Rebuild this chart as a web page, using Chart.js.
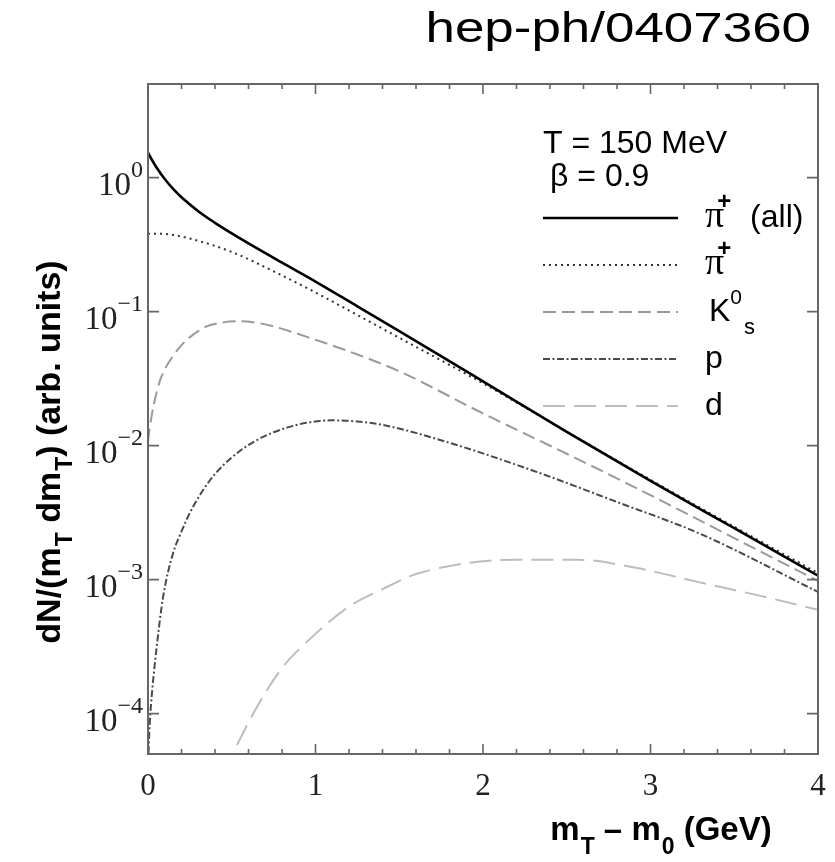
<!DOCTYPE html>
<html><head><meta charset="utf-8">
<script src="https://cdn.jsdelivr.net/npm/chart.js@4.4.1/dist/chart.umd.min.js"></script>
<style>html,body{margin:0;padding:0;background:#fff;}#wrap{width:835px;height:862px;position:relative;}</style>
</head><body><div id="wrap"><canvas id="c"></canvas></div>
<script>
// ---- data ----
const xPiAll = [0, 0.02, 0.05, 0.1, 0.15, 0.2, 0.3, 0.4, 0.5, 0.6, 0.8, 1, 1.25, 1.5, 2, 2.5, 3, 3.5, 4];
const yPiAll = [1.538, 1.381, 1.196, 0.976, 0.824, 0.714, 0.562, 0.460, 0.3836, 0.323, 0.2321, 0.1678, 0.1096, 0.0716, 0.0302, 0.01268, 0.00546, 0.00242, 0.00107];

const xPiPlus = [0, 0.1, 0.25, 0.5, 0.75, 1, 1.25, 1.5, 2, 2.5, 3, 3.5, 4];
const yPiPlus = [0.382, 0.380, 0.351, 0.279, 0.200, 0.139, 0.0944, 0.0638, 0.0292, 0.01274, 0.00556, 0.00248, 0.00112];

const xK0s = [0, 0.01, 0.02, 0.035, 0.05, 0.07, 0.1, 0.15, 0.2, 0.25, 0.3, 0.35, 0.45, 0.55, 0.65, 0.75, 1, 1.25, 1.5, 2, 2.5, 3, 3.5, 4];
const yK0s = [0.01072, 0.01349, 0.01622, 0.02042, 0.02455, 0.0302, 0.03715, 0.04677, 0.05623, 0.06457, 0.07161, 0.07762, 0.08318, 0.08472, 0.0826, 0.0776, 0.0617, 0.0479, 0.0359, 0.0174, 0.0087, 0.00427, 0.00204, 0.00098];

const xProton = [0, 0.01, 0.025, 0.05, 0.09, 0.15, 0.2, 0.25, 0.3, 0.37, 0.45, 0.55, 0.65, 0.75, 0.85, 0.95, 1.1, 1.25, 1.4, 1.8, 2.3, 2.8, 3.3, 4];
const yProton = [4e-5, 8.3e-5, 1.48e-4, 3.0e-4, 7.4e-4, 1.58e-3, 2.29e-3, 3.16e-3, 4.09e-3, 5.52e-3, 7.16e-3, 9.16e-3, 0.01101, 0.01259, 0.01387, 0.01483, 0.01545, 0.01514, 0.0143, 0.0105, 6.5e-3, 3.8e-3, 2.19e-3, 8.1e-4];

const xDeuteron = [0.45, 0.55, 0.65, 0.8, 1.0, 1.2, 1.4, 1.62, 2.2, 2.56, 2.92, 3.3, 3.65, 4.0];
const yDeuteron = [3.6e-5, 6.5e-5, 1.12e-4, 2.19e-4, 3.94e-4, 6.3e-4, 8.5e-4, 1.12e-3, 1.41e-3, 1.41e-3, 1.22e-3, 9.5e-4, 7.6e-4, 5.96e-4];

const yTickExponents = [0, -1, -2, -3, -4];
const xTickValues = [0, 1, 2, 3, 4];
const xMinorStep = 0.2;
const yMin = 5e-5, yMax = 5, xMin = 0, xMax = 4;
const titleText = 'hep-ph/0407360';
const paramLines = ['T = 150 MeV', 'β = 0.9'];

const SANS = '"Liberation Sans", Arial, Helvetica, sans-serif';
const SERIF = '"Liberation Serif", "Times New Roman", serif';

const pts = (xs, ys) => xs.map((x, i) => ({x, y: ys[i]}));

const datasets = [
  {label: 'π+ (all)', data: pts(xPiAll, yPiAll), borderColor: '#000', borderWidth: 2.6, borderDash: []},
  {label: 'π+', data: pts(xPiPlus, yPiPlus), borderColor: '#333', borderWidth: 2, borderDash: [2, 4]},
  {label: 'K0s', data: pts(xK0s, yK0s), borderColor: '#9a9a9a', borderWidth: 2, borderDash: [13, 6]},
  {label: 'p', data: pts(xProton, yProton), borderColor: '#4a4a4a', borderWidth: 2, borderDash: [7, 2.5, 2, 2.5]},
  {label: 'd', data: pts(xDeuteron, yDeuteron), borderColor: '#bdbdbd', borderWidth: 2, borderDash: [22, 9]}
].map(d => Object.assign(d, {pointRadius: 0, fill: false, cubicInterpolationMode: 'monotone', borderCapStyle: 'butt', clip: 0}));

// legend label pieces: [text, font, dx, dy]
const legendLabels = [
  [['π', '38px ' + SERIF, 0, 0], ['+', 'bold 24px ' + SANS, -7, -18], [' (all)', '32px ' + SANS, 10, 0]],
  [['π', '38px ' + SERIF, 0, 0], ['+', 'bold 24px ' + SANS, -7, -18]],
  [['K', '32px ' + SANS, 4, 0], ['0', '21px ' + SANS, 0, -17], ['s', '22px ' + SANS, 2, 13]],
  [['p', '32px ' + SANS, 0, 0]],
  [['d', '32px ' + SANS, 0, 0]]
];

function rich(ctx, segs, x, y, measureOnly) {
  let cx = x;
  for (const [t, f, dx, dy] of segs) {
    ctx.font = f; cx += dx || 0;
    if (!measureOnly) ctx.fillText(t, cx, y + (dy || 0));
    cx += ctx.measureText(t).width;
  }
  return cx - x;
}

const decor = {
  id: 'decor',
  afterDatasetsDraw(chart) {
    const {ctx, chartArea: a, scales: {x, y}} = chart;
    ctx.save();
    ctx.textAlign = 'left';
    ctx.textBaseline = 'alphabetic';
    // frame
    ctx.strokeStyle = '#666'; ctx.lineWidth = 2; ctx.setLineDash([]);
    ctx.strokeRect(a.left, a.top, a.right - a.left, a.bottom - a.top);
    // x ticks (inward, bottom and top)
    const n = Math.round((xMax - xMin) / xMinorStep);
    ctx.lineWidth = 1.6;
    for (let i = 0; i <= n; i++) {
      const v = xMin + i * xMinorStep;
      const px = x.getPixelForValue(v);
      const major = xTickValues.some(t => Math.abs(t - v) < 1e-6);
      const len = major ? 10 : 5;
      ctx.beginPath();
      ctx.moveTo(px, a.bottom); ctx.lineTo(px, a.bottom - len);
      ctx.moveTo(px, a.top); ctx.lineTo(px, a.top + len);
      ctx.stroke();
    }
    // y ticks
    for (const e of yTickExponents) {
      const py = y.getPixelForValue(Math.pow(10, e));
      ctx.beginPath();
      ctx.moveTo(a.left, py); ctx.lineTo(a.left + 11, py);
      ctx.moveTo(a.right, py); ctx.lineTo(a.right - 11, py);
      ctx.stroke();
    }
    // y tick labels 10^e
    ctx.fillStyle = '#222';
    for (const e of yTickExponents) {
      const py = y.getPixelForValue(Math.pow(10, e));
      const sup = e < 0 ? '\u2212' + (-e) : String(e);
      ctx.font = '24px ' + SERIF; const w2 = ctx.measureText(sup).width;
      ctx.font = '33px ' + SERIF; const w1 = ctx.measureText('10').width;
      const xEnd = a.left - 5;
      ctx.fillText('10', xEnd - w2 - w1, py + 17);
      ctx.font = '24px ' + SERIF;
      ctx.fillText(sup, xEnd - w2, py - 1);
    }
    // x tick labels
    ctx.font = '31px ' + SERIF; ctx.textAlign = 'center';
    for (const v of xTickValues) {
      ctx.fillText(String(v), x.getPixelForValue(v), a.bottom + 41);
    }
    ctx.textAlign = 'left';
    ctx.fillStyle = '#000';
    // x axis title
    const B = 'bold 33px ' + SANS, Bs = 'bold 23px ' + SANS;
    const xt = [['m', B, 0, 0], ['T', Bs, 1, 14], [' \u2013 ', B, 0, 0], ['m', B, 0, 0], ['0', Bs, 1, 14], [' (GeV)', B, 0, 0]];
    const xw = rich(ctx, xt, 0, 0, true);
    rich(ctx, xt, 661 - xw / 2, a.bottom + 86);
    // y axis title
    const By = 'bold 34px ' + SANS;
    const yt = [['dN/(m', By, 0, 0], ['T', Bs, 1, 12], [' dm', By, 0, 0], ['T', Bs, 1, 12], [') (arb. units)', By, 0, 0]];
    const yw = rich(ctx, yt, 0, 0, true);
    ctx.save();
    ctx.translate(60, 452); ctx.rotate(-Math.PI / 2);
    rich(ctx, yt, -yw / 2, 0);
    ctx.restore();
    // parameter text
    ctx.font = '32px ' + SANS;
    ctx.fillText(paramLines[0], a.left + 395, a.top + 69);
    ctx.fillText(paramLines[1], a.left + 402, a.top + 102);
    // legend
    chart.data.datasets.forEach((ds, i) => {
      const ly = a.top + 134 + i * 47;
      ctx.strokeStyle = ds.borderColor; ctx.lineWidth = ds.borderWidth;
      ctx.setLineDash(ds.borderDash || []);
      ctx.beginPath(); ctx.moveTo(a.left + 395, ly); ctx.lineTo(a.left + 530, ly); ctx.stroke();
      ctx.setLineDash([]);
      ctx.fillStyle = '#000';
      rich(ctx, legendLabels[i], a.left + 557, ly + 9);
    });
    // title (stretched horizontally as in the reference)
    ctx.save();
    ctx.font = '42px ' + SANS; ctx.textAlign = 'right'; ctx.fillStyle = '#000';
    ctx.translate(811, 42); ctx.scale(1.26, 1);
    ctx.fillText(titleText, 0, 0);
    ctx.restore();
    ctx.restore();
  }
};

new Chart(document.getElementById('c'), {
  type: 'line',
  data: {datasets},
  options: {
    responsive: true, maintainAspectRatio: false, animation: false,
    layout: {padding: {left: 148, right: 17, top: 84, bottom: 108}},
    scales: {
      x: {type: 'linear', min: xMin, max: xMax, display: false},
      y: {type: 'logarithmic', min: yMin, max: yMax, display: false}
    },
    plugins: {legend: {display: false}, tooltip: {enabled: false}, title: {display: false}}
  },
  plugins: [decor]
});
</script>
</body></html>
